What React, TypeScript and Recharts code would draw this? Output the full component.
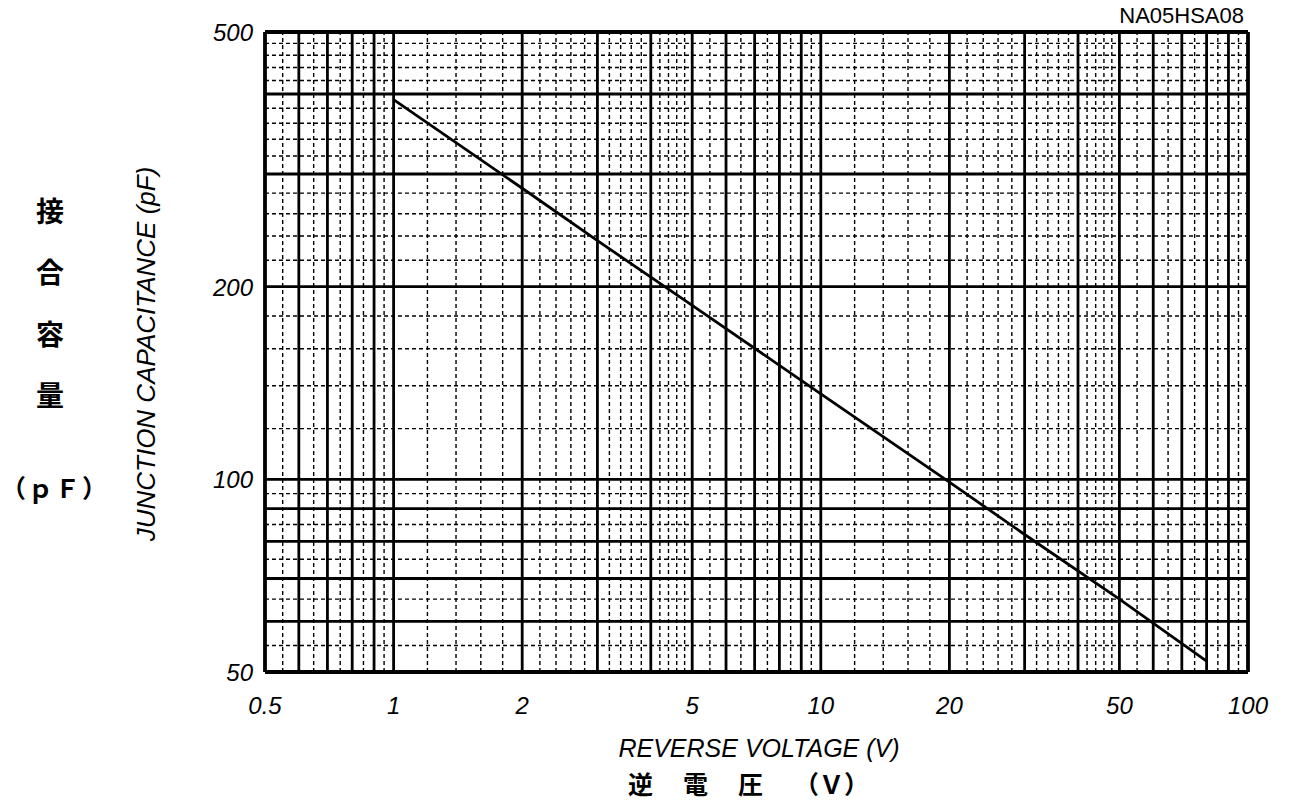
import { Line, LineChart, ReferenceLine, XAxis, YAxis } from "recharts";

// curve (reverse voltage V -> junction capacitance pF)
const voltage = [1, 2, 3, 5, 10, 20, 30, 50, 80];
const capacitance = [392, 285, 236, 187, 136, 99, 82, 65, 52];

const xTicks = [0.5, 1, 2, 5, 10, 20, 50, 100];
const yTicks = [50, 100, 200, 500];

// log paper grid
const xBorder = [0.5, 100];
const yBorder = [50, 500];
const xMajor = [0.6, 0.7, 0.8, 0.9, 1, 2, 3, 4, 5, 6, 7, 8, 9, 10, 20, 30, 40, 50, 60, 70, 80, 90];
const xMinor = [
    0.55, 0.65, 0.75, 0.85, 0.95, 1.2, 1.4, 1.6, 1.8, 2.2, 2.4, 2.6, 2.8, 3.2, 3.4, 3.6, 3.8,
    4.2, 4.4, 4.6, 4.8, 5.5, 6.5, 7.5, 8.5, 9.5, 12, 14, 16, 18, 22, 24, 26, 28, 32, 34, 36, 38,
    42, 44, 46, 48, 55, 65, 75, 85, 95,
];
const yMajor = [60, 70, 80, 90, 100, 200, 300, 400];
const yMinor = [55, 65, 75, 85, 95, 120, 140, 160, 180, 220, 240, 260, 280, 320, 340, 360, 380, 420, 440, 460, 480];

const data = voltage.map((v, i) => ({ v, c: capacitance[i] }));

const latin = "'Liberation Sans', Arial, sans-serif";
const cjk = "'Noto Sans CJK JP', sans-serif";

const XTick = (props: any) => (
    <text x={props.x} y={props.y} dy={42} textAnchor="middle" fontFamily={latin} fontStyle="italic" fontSize={24} fill="#000">
        {props.payload.value}
    </text>
);

const YTick = (props: any) => (
    <text x={props.x - 12} y={props.y} dy={9} textAnchor="end" fontFamily={latin} fontStyle="italic" fontSize={24} fill="#000">
        {props.payload.value}
    </text>
);

export default function App() {
    return (
        <div style={{ position: "relative", width: 1270, height: 789, background: "#fff" }}>
            <LineChart width={1270} height={780} data={data} margin={{ top: 24, right: 30, bottom: 86, left: 0 }}>
                <XAxis
                    dataKey="v"
                    type="number"
                    scale="log"
                    domain={[0.5, 100]}
                    allowDataOverflow
                    ticks={xTicks}
                    interval={0}
                    axisLine={false}
                    tickLine={false}
                    tickSize={0}
                    tickMargin={0}
                    height={30}
                    tick={XTick}
                />
                <YAxis
                    type="number"
                    scale="log"
                    domain={[50, 500]}
                    allowDataOverflow
                    ticks={yTicks}
                    interval={0}
                    axisLine={false}
                    tickLine={false}
                    tickSize={0}
                    tickMargin={0}
                    width={257}
                    tick={YTick}
                />
                {xMinor.map((x) => (
                    <ReferenceLine key={"xm" + x} x={x} stroke="#000" strokeWidth={1.4} strokeDasharray="4 3" />
                ))}
                {yMinor.map((y) => (
                    <ReferenceLine key={"ym" + y} y={y} stroke="#000" strokeWidth={1.4} strokeDasharray="4 3" />
                ))}
                {xMajor.map((x) => (
                    <ReferenceLine key={"xM" + x} x={x} stroke="#000" strokeWidth={2.8} />
                ))}
                {yMajor.map((y) => (
                    <ReferenceLine key={"yM" + y} y={y} stroke="#000" strokeWidth={2.8} />
                ))}
                {xBorder.map((x) => (
                    <ReferenceLine key={"xB" + x} x={x} stroke="#000" strokeWidth={3.8} />
                ))}
                {yBorder.map((y) => (
                    <ReferenceLine key={"yB" + y} y={y} stroke="#000" strokeWidth={3.8} />
                ))}
                <Line dataKey="c" type="linear" stroke="#000" strokeWidth={2.8} dot={false} isAnimationActive={false} />
            </LineChart>
            {/* titles in page coordinates (overlay covers the body margin too) */}
            <svg width={1280} height={805} style={{ position: "absolute", left: -8, top: -8, pointerEvents: "none" }}>
                <text x={1244} y={23} textAnchor="end" fontFamily={latin} fontSize={22} fill="#000">
                    NA05HSA08
                </text>
                <text x={759} y={757} textAnchor="middle" fontFamily={latin} fontStyle="italic" fontSize={25} fill="#000">
                    REVERSE VOLTAGE (V)
                </text>
                <g fontFamily={cjk} fontWeight="bold" fontSize={25} fill="#000">
                    <text x={628} y={794}>逆</text>
                    <text x={683} y={794}>電</text>
                    <text x={738} y={794}>圧</text>
                    <text x={794} y={794}>（Ｖ）</text>
                </g>
                <g fontFamily={cjk} fontWeight="bold" fontSize={28} fill="#000" textAnchor="middle">
                    <text x={50} y={222}>接</text>
                    <text x={50} y={283}>合</text>
                    <text x={50} y={345}>容</text>
                    <text x={50} y={406}>量</text>
                </g>
                <text x={1} y={498} fontFamily={cjk} fontWeight="bold" fontSize={25} letterSpacing={2} fill="#000">
                    （ｐＦ）
                </text>
                <text
                    x={155}
                    y={354}
                    transform="rotate(-90 155 354)"
                    textAnchor="middle"
                    fontFamily={latin}
                    fontStyle="italic"
                    fontSize={26}
                    fill="#000"
                >
                    JUNCTION CAPACITANCE (pF)
                </text>
            </svg>
        </div>
    );
}
